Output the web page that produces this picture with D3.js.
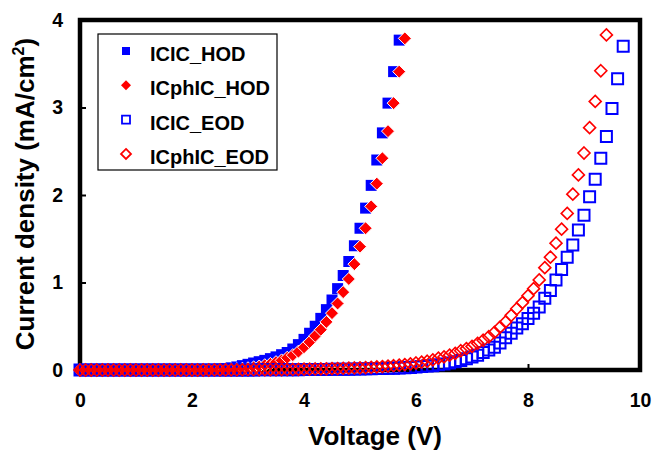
<!DOCTYPE html>
<html lang="en">
<head>
<meta charset="utf-8" />
<title>Current density vs Voltage</title>
<script src="https://cdn.jsdelivr.net/npm/d3@7/dist/d3.min.js"></script>
<style>
  body{margin:0;background:#fff}
  svg{display:block;font-family:"Liberation Sans",Arial,sans-serif;font-weight:bold}
  .tick line{stroke:#000;stroke-width:2px}
  .tick text{font-size:19.5px;fill:#000;font-weight:bold}
  .legend text{font-size:20px;fill:#000}
  .title{font-size:26px;fill:#000}
</style>
</head>
<body>
<div id="chart"></div>
<script>
// measured voltage points (V)
const voltage=[
  0.0,0.1,0.2,0.3,0.4,0.5,0.6,0.7,0.8,0.9,
  1.0,1.1,1.2,1.3,1.4,1.5,1.6,1.7,1.8,1.9,
  2.0,2.1,2.2,2.3,2.4,2.5,2.6,2.7,2.8,2.9,
  3.0,3.1,3.2,3.3,3.4,3.5,3.6,3.7,3.8,3.9,
  4.0,4.1,4.2,4.3,4.4,4.5,4.6,4.7,4.8,4.9,
  5.0,5.1,5.2,5.3,5.4,5.5,5.6,5.7,5.8,5.9,
  6.0,6.1,6.2,6.3,6.4,6.5,6.6,6.7,6.8,6.9,
  7.0,7.1,7.2,7.3,7.4,7.5,7.6,7.7,7.8,7.9,
  8.0,8.1,8.2,8.3,8.4,8.5,8.6,8.7,8.8,8.9,
  9.0,9.1,9.2,9.3,9.4,9.5,9.6,9.7];

// current density (mA/cm2), one value per voltage point from 0 V
const icicHod=[
  0,0,0,0,0,0,0,0,0,0,
  0,0,0,0,0,0.001,0.001,0.001,0.001,0.002,
  0.002,0.003,0.003,0.004,0.006,0.010,0.015,0.025,0.035,0.050,
  0.065,0.080,0.095,0.110,0.130,0.150,0.175,0.200,0.240,0.290,
  0.350,0.420,0.500,0.590,0.690,0.800,0.930,1.080,1.240,1.420,
  1.620,1.850,2.110,2.400,2.710,3.050,3.410,3.770];

const icphicHod=[
  0,0,0,0,0,0,0,0,0,0,
  0,0,0,0,0,0,0.001,0.001,0.001,0.001,
  0.002,0.002,0.003,0.003,0.004,0.005,0.006,0.008,0.010,0.015,
  0.020,0.030,0.040,0.055,0.070,0.090,0.110,0.140,0.170,0.210,
  0.260,0.320,0.390,0.460,0.550,0.650,0.760,0.890,1.040,1.210,
  1.410,1.620,1.870,2.130,2.420,2.730,3.050,3.410,3.790];

const icicEod=[
  0,0,0,0,0,0,0,0,0,0,
  0,0,0,0,0,0,0,0,0,0,
  0,0,0,0,0,0.001,0.001,0.001,0.001,0.001,
  0.001,0.001,0.002,0.002,0.002,0.003,0.003,0.003,0.004,0.004,
  0.005,0.005,0.006,0.006,0.007,0.008,0.008,0.009,0.010,0.011,
  0.012,0.013,0.014,0.016,0.017,0.019,0.021,0.023,0.026,0.030,
  0.035,0.040,0.045,0.050,0.060,0.070,0.080,0.095,0.110,0.130,
  0.150,0.170,0.200,0.230,0.260,0.310,0.370,0.420,0.480,0.530,
  0.590,0.650,0.720,0.820,0.910,1.030,1.150,1.290,1.430,1.600,
  1.770,1.980,2.180,2.420,2.670,2.990,3.330,3.700];

const icphicEod=[
  0,0,0,0,0,0,0,0,0,0,
  0,0,0,0,0,0,0,0,0,0,
  0,0,0,0,0.001,0.001,0.001,0.002,0.002,0.002,
  0.003,0.003,0.003,0.004,0.004,0.005,0.005,0.006,0.006,0.007,
  0.010,0.011,0.012,0.013,0.014,0.016,0.017,0.019,0.021,0.023,
  0.025,0.028,0.031,0.035,0.039,0.044,0.049,0.055,0.062,0.070,
  0.080,0.090,0.100,0.115,0.135,0.150,0.170,0.190,0.220,0.245,
  0.270,0.305,0.340,0.380,0.430,0.490,0.550,0.625,0.700,0.770,
  0.850,0.930,1.030,1.170,1.290,1.450,1.610,1.790,2.010,2.230,
  2.480,2.770,3.070,3.420,3.830];

const seriesNames=['ICIC_HOD','ICphIC_HOD','ICIC_EOD','ICphIC_EOD'];
const seriesValues=[icicHod,icphicHod,icicEod,icphicEod];
const xTicks=[0,2,4,6,8,10];
const yTicks=[0,1,2,3,4];

const W=654,H=452;
const x=d3.scaleLinear().domain([0,10]).range([80,640]);
const y=d3.scaleLinear().domain([0,4]).range([370,20]);

// diamond: size = 2*r*r
const diamond={draw(c,size){const r=Math.sqrt(size/2);c.moveTo(0,-r);c.lineTo(r,0);c.lineTo(0,r);c.lineTo(-r,0);c.closePath();}};

const styles=[
  {type:d3.symbolSquare,size:11*11,fill:'#0000ff',stroke:'none',sw:0,  lsize:8*8},
  {type:diamond,       size:2*6.5*6.5,fill:'#ff0000',stroke:'#fff',sw:1,lsize:2*5*5},
  {type:d3.symbolSquare,size:11*11,fill:'none',stroke:'#0000ff',sw:2,  lsize:8*8},
  {type:diamond,       size:2*6*6,fill:'none',stroke:'#ff0000',sw:1.6, lsize:2*5*5}
];

const svg=d3.select('#chart').append('svg').attr('width',W).attr('height',H);
svg.append('rect').attr('width',W).attr('height',H).attr('fill','#fff');

/* ---- axes (ticks inside) ---- */
svg.append('g').attr('transform','translate(0,370)')
  .call(d3.axisBottom(x).tickValues(xTicks).tickSizeInner(-6).tickSizeOuter(0).tickPadding(23).tickFormat(d3.format('d')))
  .call(g=>g.select('.domain').remove());
svg.append('g').attr('transform','translate(80,0)')
  .call(d3.axisLeft(y).tickValues(yTicks).tickSizeInner(-6).tickSizeOuter(0).tickPadding(17).tickFormat(d3.format('d')))
  .call(g=>g.select('.domain').remove());
svg.selectAll('.tick text').attr('font-family','"Liberation Sans",Arial,sans-serif');

/* ---- frame ---- */
svg.append('rect').attr('x',x(0)).attr('y',y(4)).attr('width',x(10)-x(0)).attr('height',y(0)-y(4))
  .attr('fill','none').attr('stroke','#000').attr('stroke-width',4.5);

/* ---- markers ---- */
seriesValues.forEach((vals,i)=>{
  const st=styles[i];
  svg.append('g').selectAll('path').data(vals).join('path')
    .attr('transform',(d,j)=>`translate(${x(voltage[j])},${y(d)})`)
    .attr('d',d3.symbol().type(st.type).size(st.size))
    .attr('fill',st.fill).attr('stroke',st.stroke).attr('stroke-width',st.sw);
});

/* ---- legend ---- */
const lg=svg.append('g').attr('class','legend');
lg.append('rect').attr('x',98).attr('y',34).attr('width',179).attr('height',136)
  .attr('fill','#fff').attr('stroke','#000').attr('stroke-width',1.2);
seriesNames.forEach((name,i)=>{
  const st=styles[i], ly=51+i*34.3;
  lg.append('path').attr('transform',`translate(126,${ly})`)
    .attr('d',d3.symbol().type(st.type).size(st.lsize))
    .attr('fill',st.fill).attr('stroke',st.fill==='none'?st.stroke:'none').attr('stroke-width',st.sw?1.8:0);
  lg.append('text').attr('x',150).attr('y',ly+10).text(name);
});

/* ---- titles ---- */
svg.append('text').attr('class','title').attr('x',375).attr('y',445)
  .attr('text-anchor','middle').text('Voltage (V)');
const yt=svg.append('text').attr('class','title').attr('text-anchor','middle')
  .attr('transform','translate(34,194) rotate(-90)');
yt.append('tspan').text('Current density (mA/cm');
yt.append('tspan').attr('font-size','16px').attr('dy',-10).text('2');
yt.append('tspan').attr('dy',10).text(')');
</script>
</body>
</html>
